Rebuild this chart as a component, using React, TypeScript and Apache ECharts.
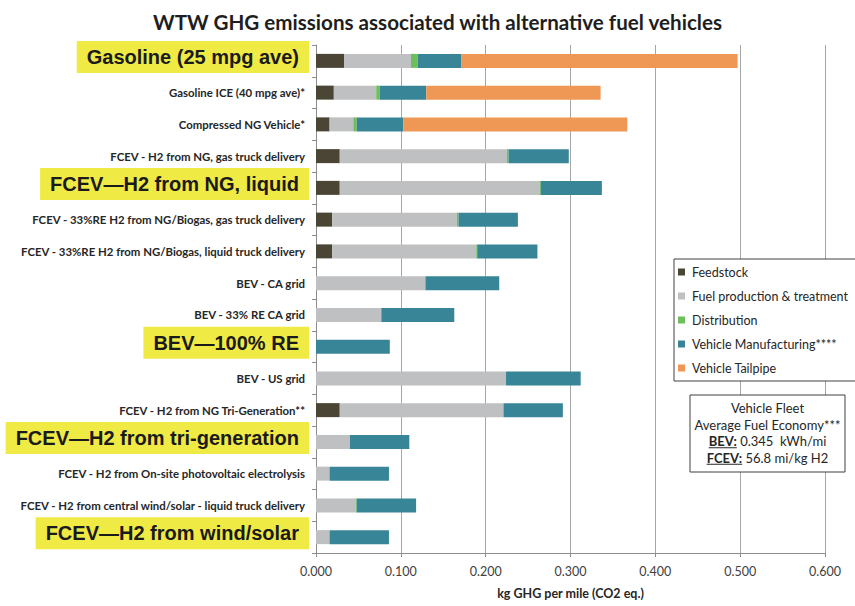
import React, { useEffect, useRef } from "react";
import * as echarts from "echarts";

const categories = [
  "Gasoline (25 mpg ave)",
  "Gasoline ICE (40 mpg ave)*",
  "Compressed NG Vehicle*",
  "FCEV - H2 from NG, gas truck delivery",
  "FCEV—H2 from NG, liquid",
  "FCEV - 33%RE H2 from NG/Biogas, gas truck delivery",
  "FCEV - 33%RE H2 from NG/Biogas, liquid truck delivery",
  "BEV - CA grid",
  "BEV - 33% RE CA grid",
  "BEV—100% RE",
  "BEV - US grid",
  "FCEV - H2 from NG Tri-Generation**",
  "FCEV—H2 from tri-generation",
  "FCEV - H2 from On-site photovoltaic electrolysis",
  "FCEV - H2 from central wind/solar - liquid truck delivery",
  "FCEV—H2 from wind/solar",
];
const highlighted = [0, 4, 9, 12, 15];

const feedstock = [0.033, 0.021, 0.016, 0.028, 0.028, 0.019, 0.019, 0, 0, 0, 0, 0.028, 0, 0, 0, 0];
const fuelProduction = [0.079, 0.05, 0.028, 0.197, 0.236, 0.147, 0.17, 0.129, 0.077, 0, 0.224, 0.193, 0.04, 0.016, 0.047, 0.016];
const distribution = [0.008, 0.004, 0.004, 0.002, 0.001, 0.002, 0.001, 0, 0, 0, 0, 0, 0, 0, 0.001, 0];
const manufacturing = [0.051, 0.055, 0.055, 0.071, 0.072, 0.07, 0.071, 0.087, 0.086, 0.087, 0.088, 0.07, 0.07, 0.07, 0.07, 0.07];
const tailpipe = [0.326, 0.2055, 0.264, 0, 0, 0, 0, 0, 0, 0, 0, 0, 0, 0, 0, 0];

const seriesNames = [
  "Feedstock",
  "Fuel production & treatment",
  "Distribution",
  "Vehicle Manufacturing****",
  "Vehicle Tailpipe",
];
const seriesData = [feedstock, fuelProduction, distribution, manufacturing, tailpipe];
const seriesColors = ["#4a4535", "#bfc0c2", "#6cbf5a", "#388598", "#ef9855"];

const noteLines = [
  "Vehicle Fleet",
  "Average Fuel Economy***",
  "{b|BEV:} 0.345  kWh/mi",
  "{b|FCEV:} 56.8 mi/kg H2",
];

function textWidth(text: string, font: string): number {
  const c = document.createElement("canvas").getContext("2d");
  if (!c) return 0;
  c.font = font;
  return c.measureText(text).width;
}

export default function App() {
  const ref = useRef<HTMLDivElement>(null);
  useEffect(() => {
    if (!ref.current) return;
    const chart = echarts.init(ref.current, null, { renderer: "svg" });

    const noteX = 767.5;
    const noteY = 433;
    const lh = 16.5;
    const fs = 13;
    const regFont = `${fs}px Lato`;
    const boldFont = `bold ${fs}px Lato`;
    const bevW = textWidth("BEV:", boldFont);
    const bevRest = textWidth(" 0.345  kWh/mi", regFont);
    const fcevW = textWidth("FCEV:", boldFont);
    const fcevRest = textWidth(" 56.8 mi/kg H2", regFont);
    const bevLeft = noteX - (bevW + bevRest) / 2;
    const fcevLeft = noteX - (fcevW + fcevRest) / 2;
    const line3Y = noteY + lh * 0.5;
    const line4Y = noteY + lh * 1.5;

    const option: any = {
      animation: false,
      backgroundColor: "#ffffff",
      title: {
        text: "WTW GHG emissions associated with alternative fuel vehicles",
        left: 148,
        top: 6,
        textStyle: { fontFamily: "Lato", fontWeight: "bold", fontSize: 20.6, color: "#1e1e1e" },
      },
      grid: { left: 316, right: 30, top: 45, bottom: 53, containLabel: false },
      legend: {
        orient: "vertical",
        left: 674,
        top: 259,
        data: seriesNames,
        icon: "rect",
        itemWidth: 7,
        itemHeight: 7,
        itemGap: 10,
        padding: [6, 20, 6, 4],
        borderColor: "#404040",
        borderWidth: 1,
        backgroundColor: "#ffffff",
        textStyle: { fontFamily: "Lato", fontSize: 12.5, color: "#262626", lineHeight: 14, padding: [0, 0, 0, 2] },
        z: 10,
      },
      xAxis: {
        type: "value",
        min: 0,
        max: 0.6,
        interval: 0.1,
        name: "kg GHG per mile (CO2 eq.)",
        nameLocation: "middle",
        nameGap: 34,
        nameTextStyle: { fontFamily: "Lato", fontWeight: "bold", fontSize: 12.5, color: "#262626" },
        axisLine: { show: true, lineStyle: { color: "#8c8c8c" } },
        axisTick: { show: true, length: 4, lineStyle: { color: "#8c8c8c" } },
        axisLabel: {
          margin: 12,
          fontFamily: "Lato",
          fontSize: 12.5,
          color: "#404040",
          formatter: (v: number) => v.toFixed(3),
        },
        splitLine: { show: true, lineStyle: { color: "#a6a6a6" } },
      },
      yAxis: {
        type: "category",
        inverse: true,
        data: categories,
        axisLine: { show: true, lineStyle: { color: "#8c8c8c" } },
        axisTick: { show: true, length: 4, lineStyle: { color: "#8c8c8c" } },
        splitLine: { show: false },
        axisLabel: {
          margin: 7,
          interval: 0,
          formatter: (v: string, i: number) =>
            highlighted.includes(i) ? `{hl|${v}}\n{sp|}` : `{sm|${v}}`,
          rich: {
            hl: {
              fontFamily: "Liberation Sans",
              fontWeight: "bold",
              fontSize: 20,
              lineHeight: 21,
              color: "#1a1a1a",
              backgroundColor: "#f0ea45",
              padding: [6, 10, 6, 10],
            },
            sp: { height: 8, lineHeight: 8, fontSize: 1 },
            sm: {
              fontFamily: "Lato",
              fontWeight: "bold",
              fontSize: 11.4,
              color: "#262626",
              padding: [0, 4, 0, 0],
            },
          },
        },
      },
      series: seriesNames.map((name, k) => ({
        name,
        type: "bar",
        stack: "total",
        barWidth: 14,
        data: seriesData[k],
        itemStyle: { color: seriesColors[k] },
      })),
      graphic: [
        {
          type: "rect",
          shape: { x: 690, y: 395, width: 155, height: 77 },
          style: { fill: "#ffffff", stroke: "#404040", lineWidth: 1 },
          z: 10,
        },
        {
          type: "text",
          x: noteX,
          y: noteY,
          z: 11,
          style: {
            text: noteLines.join("\n"),
            align: "center",
            verticalAlign: "middle",
            fontFamily: "Lato",
            fontSize: fs,
            lineHeight: lh,
            fill: "#262626",
            rich: {
              b: { fontFamily: "Lato", fontWeight: "bold", fontSize: fs, lineHeight: lh, fill: "#262626" },
            },
          },
        },
        {
          type: "line",
          shape: { x1: bevLeft, y1: line3Y + 6.5, x2: bevLeft + bevW, y2: line3Y + 6.5 },
          style: { stroke: "#262626", lineWidth: 1 },
          z: 12,
        },
        {
          type: "line",
          shape: { x1: fcevLeft, y1: line4Y + 6.5, x2: fcevLeft + fcevW, y2: line4Y + 6.5 },
          style: { stroke: "#262626", lineWidth: 1 },
          z: 12,
        },
      ],
    };
    chart.setOption(option);
    return () => chart.dispose();
  }, []);
  return (
    <div
      ref={ref}
      style={{ position: "fixed", left: 0, top: 0, width: 855, height: 606 }}
    />
  );
}
